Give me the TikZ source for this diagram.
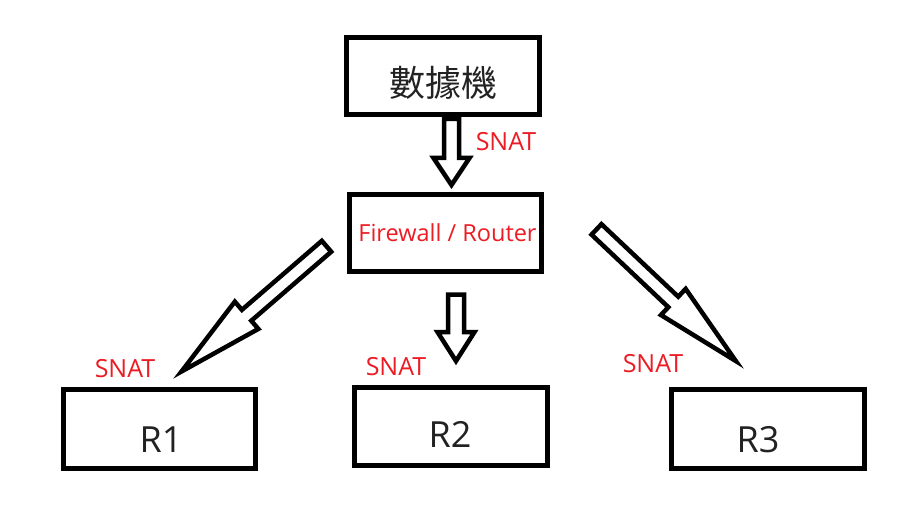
\documentclass[tikz,border=0pt]{standalone}
\usepackage{fontspec}
\setmainfont{Open Sans}
\newfontfamily\cjk{Noto Sans CJK TC}
\usetikzlibrary{calc}
\definecolor{snatred}{RGB}{236,28,36}
\definecolor{txtgray}{RGB}{34,34,34}
\tikzset{
  box/.style={draw=black, line width=5pt, fill=white, minimum width=193pt, minimum height=78pt, inner sep=0pt},
  barrow/.style={draw=black, line width=4.5pt, fill=white, line join=miter},
  snat/.style={text=snatred, font=\fontsize{25}{25}\selectfont, anchor=base, inner sep=0pt},
  rtext/.style={text=txtgray, font=\fontsize{36}{36}\selectfont, anchor=base, inner sep=0pt}
}
\newcommand\blockarrow[6]{%
  \coordinate (#1h) at ($(#3)!#6!(#2)$);
  \draw[barrow] ($(#2)!#4!90:(#3)$) -- ($(#1h)!#4!-90:(#2)$) -- ($(#1h)!#5!-90:(#2)$) -- (#3)
     -- ($(#1h)!#5!90:(#2)$) -- ($(#1h)!#4!90:(#2)$) -- ($(#2)!#4!-90:(#3)$) -- cycle;}
\begin{document}
\begin{tikzpicture}[x=1pt,y=-1pt]
\useasboundingbox[fill=white] (0,0) rectangle (897,532);
% arrow end points
\coordinate (at) at (451.5,119);   \coordinate (ap) at (451.5,185);
\coordinate (mt) at (456,294.5);   \coordinate (mp) at (456,361);
\coordinate (lt) at (326.5,246.3); \coordinate (lp) at (181.5,371.5);
\coordinate (rt) at (596.5,229.4); \coordinate (rp) at (735.8,361);
% block arrows
\blockarrow{a}{at}{ap}{7.5pt}{18pt}{27pt}
\blockarrow{m}{mt}{mp}{8pt}{18.5pt}{29pt}
\blockarrow{l}{lt}{lp}{7.2pt}{18pt}{86pt}
\blockarrow{r}{rt}{rp}{7.2pt}{18pt}{86pt}
% boxes
\node[box, minimum width=193pt, minimum height=77pt] (modem) at (443,76) {};
\node[box, minimum width=192pt, minimum height=77pt] (fw) at (445.5,233) {};
\node[box, minimum width=192pt, minimum height=79pt] (r1) at (159.5,429) {};
\node[box, minimum width=193pt, minimum height=78pt] (r2) at (451,426.5) {};
\node[box, minimum width=193pt, minimum height=79pt] (r3) at (768,429) {};
% texts
\node[text=txtgray, font=\cjk\fontsize{36}{36}\selectfont, inner sep=0pt] (modemtext) at (443.5,82.5) {數據機};
\node[text=snatred, font=\fontsize{23.5}{23.5}\selectfont, anchor=base, inner sep=0pt] (fwtext) at (447.5,241) {Firewall / Router};
\node[rtext] (r1text) at (161,452) {R1};
\node[rtext] (r2text) at (450,447) {R2};
\node[rtext] (r3text) at (758,452) {R3};
\node[snat] (s0) at (506,151) {SNAT};
\node[snat] (s1) at (125,377) {SNAT};
\node[snat] (s2) at (396,375) {SNAT};
\node[snat] (s3) at (653,372) {SNAT};
\end{tikzpicture}
\end{document}
